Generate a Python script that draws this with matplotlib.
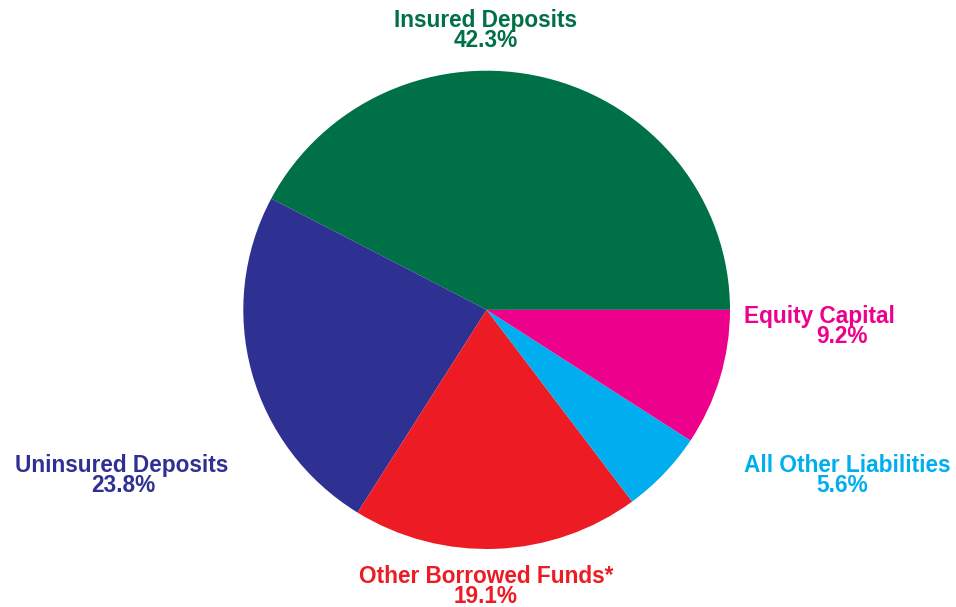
import matplotlib
matplotlib.use("Agg")
import matplotlib.pyplot as plt

categories = ["Insured Deposits", "Uninsured Deposits", "Other Borrowed Funds*",
              "All Other Liabilities", "Equity Capital"]
shares = [42.3, 23.8, 19.1, 5.6, 9.2]
colors = ["#007046", "#2E3192", "#ED1C24", "#00AEEF", "#EC008C"]

W, H = 956, 607
fig = plt.figure(figsize=(W / 100, H / 100), dpi=100)
fig.patch.set_facecolor("white")

# pie area in pixels: left, right, top, bottom
left, right, top, bottom = 243.3, 730.0, 70.7, 549.0
ax = fig.add_axes([left / W, 1 - bottom / H, (right - left) / W, (bottom - top) / H])
ax.pie(shares, colors=colors, startangle=0, counterclock=True, radius=1,
       wedgeprops=dict(linewidth=0))
ax.set_aspect("auto")
ax.set_xlim(-1, 1)
ax.set_ylim(-1, 1)
ax.axis("off")

# label positions (pixel centres / baselines) for name and percentage lines
label_pos = {
    "Insured Deposits": ((486, 27), (486, 47)),
    "Uninsured Deposits": ((122, 472), (123, 492)),
    "Other Borrowed Funds*": ((486, 583), (486, 603)),
    "All Other Liabilities": ((847, 472), (842, 492)),
    "Equity Capital": ((819, 323), (842, 343)),
}

font = dict(family=["Liberation Sans", "DejaVu Sans"], fontweight="bold", fontsize=16.3)
for name, val, col in zip(categories, shares, colors):
    (x1, y1), (x2, y2) = label_pos[name]
    fig.text(x1 / W, 1 - y1 / H, name, color=col, ha="center", va="baseline", **font)
    fig.text(x2 / W, 1 - y2 / H, f"{val:.1f}%", color=col, ha="center", va="baseline", **font)

fig.savefig("out.png", dpi=100, facecolor="white")
